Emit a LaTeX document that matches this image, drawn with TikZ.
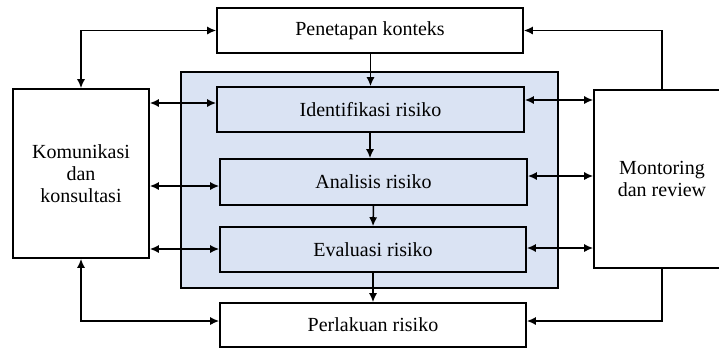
\documentclass[tikz,border=0pt]{standalone}
\usepackage{fontspec}
\setmainfont{Liberation Serif}
\usetikzlibrary{arrows.meta}
\definecolor{paleblue}{RGB}{218,227,243}
\begin{document}
\begin{tikzpicture}[x=1pt,y=-1pt,
  box/.style={draw=black,line width=1.6pt,fill=white,inner sep=0pt,
    font=\fontsize{20}{22}\selectfont,align=center},
  conn/.style={line width=1.5pt,{Latex[length=9pt,width=8pt]}-{Latex[length=9pt,width=8pt]}},
  one/.style={line width=1.5pt,-{Latex[length=9pt,width=8pt]}}]
\useasboundingbox (0,0) rectangle (719,349);
\clip (0,0) rectangle (719,349);
\fill[white] (0,0) rectangle (719,349);
\node[draw=black,line width=1.6pt,fill=paleblue,minimum width=377pt,minimum height=216pt,inner sep=0pt] (blue) at (369.5,180) {};
\node[box,minimum width=306pt,minimum height=45pt] (pen) at (370,30.5) {Penetapan konteks};
\node[box,fill=paleblue,minimum width=307pt,minimum height=45pt] (iden) at (370.5,109.5) {Identifikasi risiko};
\node[box,fill=paleblue,minimum width=307pt,minimum height=46pt] (anal) at (373.5,182) {Analisis risiko};
\node[box,fill=paleblue,minimum width=306pt,minimum height=45pt] (eval) at (373,249.5) {Evaluasi risiko};
\node[box,minimum width=306pt,minimum height=44pt] (perl) at (373,325) {Perlakuan risiko};
\node[box,minimum width=136pt,minimum height=169pt] (kom) at (81,173.5) {Komunikasi\\dan\\konsultasi};
\node[box,minimum width=136pt,minimum height=178pt] (mon) at (662,179) {Montoring\\dan review};
% vertical flow
\draw[one] (pen.south -| iden.north) -- (iden.north);
\draw[one] (iden.south -| 370,0) -- (anal.north -| 370,0);
\draw[one] (anal.south) -- (eval.north);
\draw[one] (eval.south) -- (perl.north);
% communication links
\draw[conn] (kom.north) |- (pen.west);
\draw[conn] (kom.south) |- (perl.west |- 0,321);
\draw[conn] (kom.east |- 0,103) -- (iden.west |- 0,103);
\draw[conn] (kom.east |- 0,186) -- (anal.west |- 0,186);
\draw[conn] (kom.east |- 0,249) -- (eval.west |- 0,249);
% monitoring links
\draw[one] (mon.north) |- (pen.east);
\draw[one] (mon.south) |- (perl.east |- 0,321);
\draw[conn] (iden.east |- 0,100) -- (mon.west |- 0,100);
\draw[conn] (anal.east |- 0,176) -- (mon.west |- 0,176);
\draw[conn] (eval.east |- 0,248) -- (mon.west |- 0,248);
\end{tikzpicture}
\end{document}
